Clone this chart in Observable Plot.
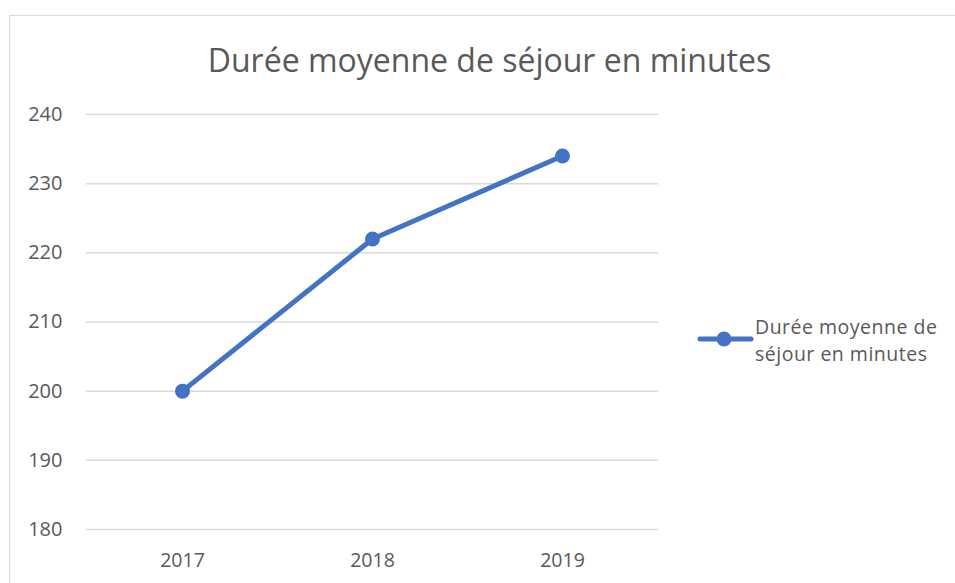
<!DOCTYPE html>
<html>
<head>
<meta charset="utf-8">
<script src="https://cdn.jsdelivr.net/npm/d3@7"></script>
<script src="https://cdn.jsdelivr.net/npm/@observablehq/plot@0.6"></script>
<style>
  html, body { margin: 0; padding: 0; background: #fff; }
  body { width: 955px; height: 583px; position: relative; overflow: hidden; font-family: "Open Sans", sans-serif; color: #595959; }
  #frame { position: absolute; left: 9px; top: 15px; width: 960px; height: 600px; border-top: 1.5px solid #d9d9d9; border-left: 1.5px solid #d9d9d9; box-sizing: border-box; }
  #chart { position: absolute; left: 0; top: 0; }
  #title { position: absolute; left: 0; width: 979px; top: 38px; text-align: center; font-size: 32px; line-height: 44px; color: #595959; white-space: nowrap; }
  #legend { position: absolute; left: 697px; top: 314px; display: flex; align-items: flex-start; }
  #legend .txt { font-size: 19.5px; line-height: 26.8px; letter-spacing: 0.5px; color: #595959; margin-left: 0px; white-space: nowrap; }
</style>
</head>
<body>
<div id="frame"></div>
<div id="chart"></div>
<div id="title">Durée moyenne de séjour en minutes</div>
<div id="legend"></div>
<script>
const years = ["2017", "2018", "2019"];
const values = [200, 222, 234];
const yTicks = [180, 190, 200, 210, 220, 230, 240];
const seriesName = "Durée moyenne de séjour en minutes";
const lineColor = "#4472C4";

const data = years.map((y, i) => ({year: y, value: values[i]}));

const chart = Plot.plot({
  width: 955,
  height: 583,
  marginLeft: 86,
  marginRight: 297,
  marginTop: 114,
  marginBottom: 54,
  style: {fontFamily: "Open Sans, sans-serif", fontSize: "19.5px", color: "#595959", background: "transparent", overflow: "visible"},
  x: {type: "point", domain: years, padding: 0.5, label: null},
  y: {domain: [180, 240], label: null},
  marks: [
    Plot.gridY(yTicks, {stroke: "#d9d9d9", strokeOpacity: 1, strokeWidth: 1.5}),
    Plot.axisY(yTicks, {tickSize: 0, tickPadding: 24, textAnchor: "end", fill: "#595959", fontSize: 20}),
    Plot.axisX(years, {tickSize: 0, tickPadding: 24, fill: "#595959", fontSize: 19.5}),
    Plot.line(data, {x: "year", y: "value", stroke: lineColor, strokeWidth: 5, strokeLinecap: "round", strokeLinejoin: "round"}),
    Plot.dot(data, {x: "year", y: "value", r: 7.5, fill: lineColor, stroke: null})
  ]
});
document.getElementById("chart").appendChild(chart);

// legend
const leg = document.getElementById("legend");
const ns = "http://www.w3.org/2000/svg";
const sw = document.createElementNS(ns, "svg");
sw.setAttribute("width", 58); sw.setAttribute("height", 34);
const ln = document.createElementNS(ns, "line");
ln.setAttribute("x1", 3); ln.setAttribute("x2", 54); ln.setAttribute("y1", 25); ln.setAttribute("y2", 25);
ln.setAttribute("stroke", lineColor); ln.setAttribute("stroke-width", 5); ln.setAttribute("stroke-linecap", "round");
const c = document.createElementNS(ns, "circle");
c.setAttribute("cx", 27); c.setAttribute("cy", 25); c.setAttribute("r", 7.5); c.setAttribute("fill", lineColor);
sw.appendChild(ln); sw.appendChild(c);
const t = document.createElement("div");
t.className = "txt";
t.innerHTML = "Durée moyenne de<br>séjour en minutes";
leg.appendChild(sw); leg.appendChild(t);
</script>
</body>
</html>
